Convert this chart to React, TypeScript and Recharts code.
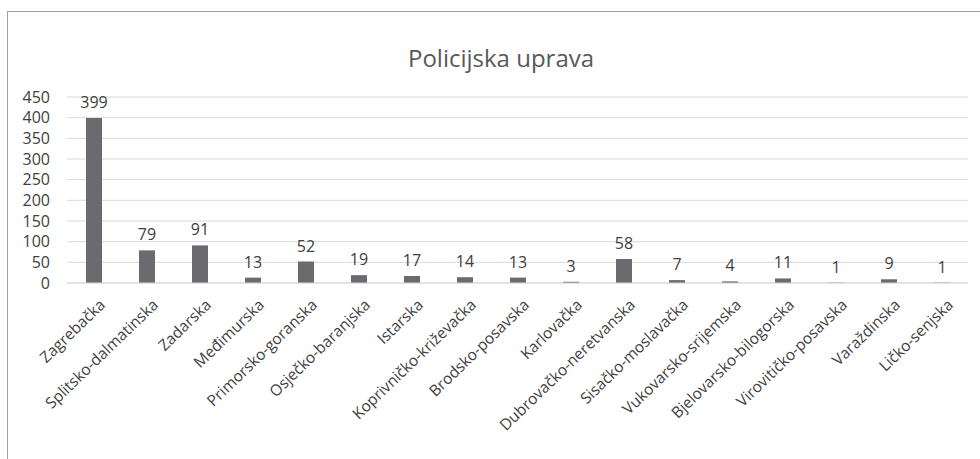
import React from 'react';
import {
    BarChart,
    Bar,
    XAxis,
    YAxis,
    CartesianGrid,
    LabelList,
} from 'recharts';

const categories = [
    'Zagrebačka',
    'Splitsko-dalmatinska',
    'Zadarska',
    'Međimurska',
    'Primorsko-goranska',
    'Osječko-baranjska',
    'Istarska',
    'Koprivničko-križevačka',
    'Brodsko-posavska',
    'Karlovačka',
    'Dubrovačko-neretvanska',
    'Sisačko-moslavačka',
    'Vukovarsko-srijemska',
    'Bjelovarsko-bilogorska',
    'Virovitičko-posavska',
    'Varaždinska',
    'Ličko-senjska',
];

const counts = [399, 79, 91, 13, 52, 19, 17, 14, 13, 3, 58, 7, 4, 11, 1, 9, 1];

const yTicks = [0, 50, 100, 150, 200, 250, 300, 350, 400, 450];

const data = categories.map((name, i) => ({ name, value: counts[i] }));

const FONT = '"Open Sans", sans-serif';

const AngledTick = (props: any) => {
    const { x, y, payload } = props;
    return (
        <g transform={`translate(${x + 5},${y + 7})`}>
            <text
                x={0}
                y={0}
                dy="0.71em"
                textAnchor="end"
                transform="rotate(-44)"
                fill="#404040"
                fontSize={15.5}
                fontFamily={FONT}
            >
                {payload.value}
            </text>
        </g>
    );
};

export default function App() {
    return (
        <div
            style={{
                position: 'absolute',
                left: 0,
                top: 0,
                width: 980,
                height: 459,
                background: '#fff',
                overflow: 'hidden',
            }}
        >
            <div
                style={{
                    position: 'absolute',
                    left: 7,
                    top: 11,
                    width: 973,
                    height: 448,
                    borderTop: '1px solid #a0a0a0',
                    borderLeft: '1px solid #a0a0a0',
                }}
            />
            <div
                style={{
                    position: 'absolute',
                    left: 0,
                    width: 1002,
                    top: 41,
                    textAlign: 'center',
                    fontFamily: FONT,
                    fontSize: 24,
                    color: '#595959',
                }}
            >
                Policijska uprava
            </div>
            <div style={{ position: 'absolute', left: 0, top: 0 }}>
                <BarChart
                    width={980}
                    height={459}
                    data={data}
                    margin={{ top: 97, right: 12, bottom: 0, left: 7 }}
                >
                    <CartesianGrid vertical={false} stroke="#d9d9d9" />
                    <XAxis
                        dataKey="name"
                        interval={0}
                        tickLine={false}
                        axisLine={{ stroke: '#d9d9d9' }}
                        tick={<AngledTick />}
                        height={176}
                    />
                    <YAxis
                        width={60}
                        domain={[0, 450]}
                        ticks={yTicks}
                        interval={0}
                        axisLine={false}
                        tickLine={false}
                        tickMargin={11}
                        tick={{ fill: '#404040', fontSize: 16, fontFamily: FONT }}
                    />
                    <Bar
                        dataKey="value"
                        fill="#6b6b6f"
                        barSize={16}
                        isAnimationActive={false}
                    >
                        <LabelList
                            dataKey="value"
                            position="top"
                            offset={10}
                            fill="#404040"
                            fontSize={16}
                            fontFamily={FONT}
                        />
                    </Bar>
                </BarChart>
            </div>
        </div>
    );
}
